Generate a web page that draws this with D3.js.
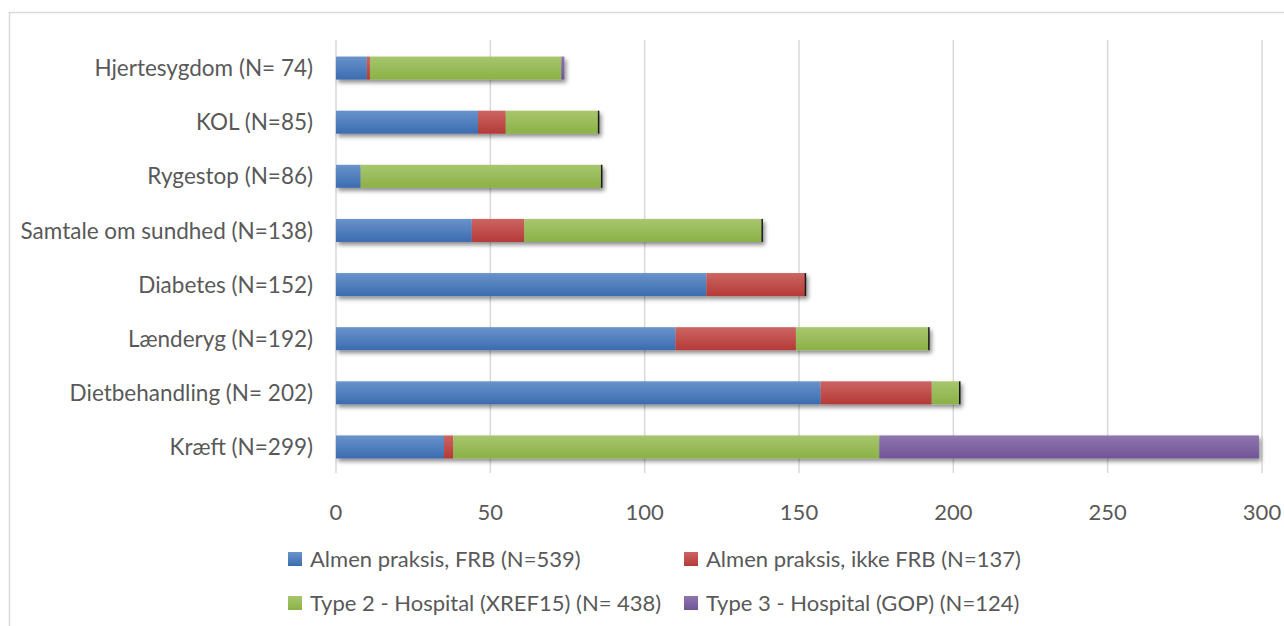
<!DOCTYPE html>
<html><head><meta charset="utf-8">
<script src="https://cdn.jsdelivr.net/npm/d3@7"></script>
<style>
html,body{margin:0;padding:0;background:#fff;}
svg{display:block;}
text{font-family:Lato,"Open Sans",sans-serif;fill:#595959;}
</style></head>
<body>
<svg id="chart" width="1284" height="626"></svg>
<script>
const categories = ["Hjertesygdom (N= 74)","KOL (N=85)","Rygestop (N=86)","Samtale om sundhed (N=138)","Diabetes (N=152)","Lænderyg (N=192)","Dietbehandling (N= 202)","Kræft (N=299)"];
const seriesNames = ["Almen praksis, FRB (N=539)","Almen praksis, ikke FRB (N=137)","Type 2 - Hospital (XREF15) (N= 438)","Type 3 - Hospital (GOP) (N=124)"];
const almenFRB    = [10, 46,  8, 44, 120, 110, 157,  35];
const almenIkke   = [ 1,  9,  0, 17,  32,  39,  36,   3];
const type2       = [62, 30, 78, 77,   0,  43,   9, 138];
const type3       = [ 1,  0,  0,  0,   0,   0,   0, 123];
const xTicks = [0,50,100,150,200,250,300];

const colors = [
  {top:"#6993cb", bot:"#3b6cb0"},
  {top:"#cc6562", bot:"#b43a37"},
  {top:"#a8c66e", bot:"#8bb146"},
  {top:"#8f76ae", bot:"#715498"}
];

const seriesVals = [almenFRB, almenIkke, type2, type3];
const rows = categories.map((c,i)=>{
  const o={cat:c};
  seriesNames.forEach((s,j)=>o[s]=seriesVals[j][i]);
  return o;
});
const stack = d3.stack().keys(seriesNames)(rows);

const svg = d3.select("#chart");
const defs = svg.append("defs");
colors.forEach((c,i)=>{
  const g = defs.append("linearGradient").attr("id","g"+i).attr("x1",0).attr("y1",0).attr("x2",0).attr("y2",1);
  g.append("stop").attr("offset","0%").attr("stop-color",c.top);
  g.append("stop").attr("offset","100%").attr("stop-color",c.bot);
});
const f = defs.append("filter").attr("id","shadow").attr("x","-5%").attr("y","-30%").attr("width","115%").attr("height","190%");
f.append("feDropShadow").attr("dx",2).attr("dy",3).attr("stdDeviation",2).attr("flood-color","#000").attr("flood-opacity",0.45);

// chart border
svg.append("rect").attr("x",9.5).attr("y",12.5).attr("width",1290).attr("height",640)
  .attr("fill","none").attr("stroke","#d9d9d9").attr("stroke-width",1.5);

const x = d3.scaleLinear().domain([0,300]).range([336,1262]);
const y = d3.scaleBand().domain(categories).range([41,474]).paddingInner(0.575).paddingOuter(0.2875);

// gridlines
svg.append("g").selectAll("line").data(xTicks).join("line")
  .attr("x1",d=>x(d)).attr("x2",d=>x(d)).attr("y1",40).attr("y2",473)
  .attr("stroke","#d9d9d9").attr("stroke-width",1.5);

// bars
const barsG = svg.append("g").attr("filter","url(#shadow)");
stack.forEach((layer,j)=>{
  barsG.append("g").attr("fill",`url(#g${j})`).selectAll("rect").data(layer).join("rect")
    .attr("x",d=>x(d[0])).attr("y",d=>y(d.data.cat))
    .attr("width",d=>Math.max(0,x(d[1])-x(d[0]))).attr("height",y.bandwidth());
});
// thin dark ends for bars whose last series is zero
const last = stack[stack.length-1];
barsG.append("g").selectAll("rect").data(last.filter(d=>d[1]-d[0]===0)).join("rect")
  .attr("x",d=>x(d[1])-0.5).attr("y",d=>y(d.data.cat)).attr("width",1.5).attr("height",y.bandwidth())
  .attr("fill","#1a1a1a");

// category labels
svg.append("g").selectAll("text").data(categories).join("text")
  .attr("x",313).attr("y",d=>y(d)+y.bandwidth()/2).attr("dy","0.36em")
  .attr("text-anchor","end").style("font-size","22.5px").text(d=>d);

// x tick labels
svg.append("g").selectAll("text").data(xTicks).join("text")
  .attr("x",d=>x(d)).attr("y",512).attr("dy","0.36em").attr("text-anchor","middle")
  .style("font-size","22px").text(d=>d);

// legend
const legPos = [[288,559],[684,559],[288,603],[684,603]];
const leg = svg.append("g").selectAll("g").data(seriesNames).join("g")
  .attr("transform",(d,i)=>`translate(${legPos[i][0]},${legPos[i][1]})`);
leg.append("rect").attr("x",0).attr("y",-7).attr("width",14).attr("height",14).attr("fill",(d,i)=>`url(#g${i})`);
leg.append("text").attr("x",22).attr("y",0).attr("dy","0.36em").style("font-size","22px").text(d=>d);
</script>
</body></html>
